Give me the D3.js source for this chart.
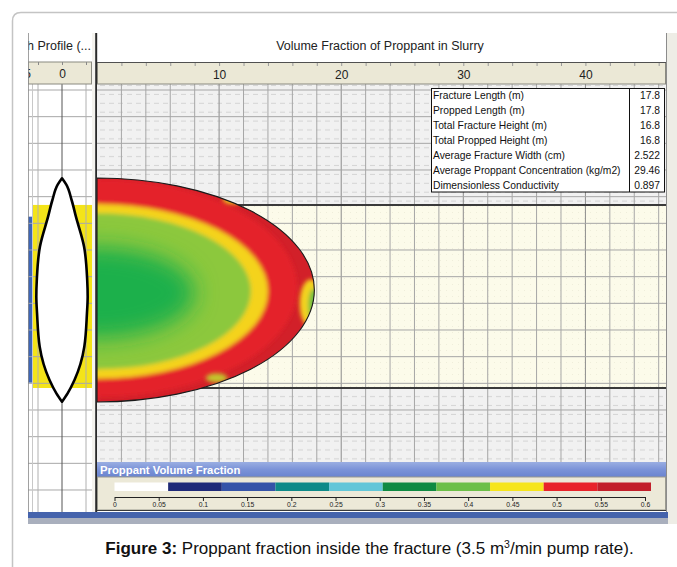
<!DOCTYPE html>
<html>
<head>
<meta charset="utf-8">
<script src="https://cdn.jsdelivr.net/npm/d3@7"></script>
<style>
  body { margin: 0; background: #fff; }
  svg { display: block; font-family: "Liberation Sans", Arial, sans-serif; }
</style>
</head>
<body>
<svg id="chart" width="677" height="567"></svg>
<script>
// ---- data ----

// distance along the fracture (m), top axis labels
const distLabels = [10, 20, 30, 40];

// layer tops / bottoms (depth, m): shale, pay zone, shale
const layerNames = ["shale", "pay", "shale"];
const layerTop = [0, 8.62, 22.35];
const layerBottom = [8.62, 22.35, 28];

// width profile (left panel): depth (m) and half width (cm)
const profileDepth = [6.62, 7.1, 8.25, 9.5, 11.75, 14.25, 15.5, 16.73, 19.25, 21.75, 22.73, 23.38];
const profileHalfWidth = [0, 0.18, 0.4, 0.58, 0.92, 1.05, 1.07, 1.04, 0.93, 0.52, 0.24, 0];

// proppant fraction contours inside the fracture (nested half ellipses)
const bandValue = [0.55, 0.515, 0.465, 0.42, 0.36];
const bandLength = [17.8, 16.4, 14.0, 12.6, 8.0];     // m from wellbore
const bandHalfHeight = [8.4, 8.2, 6.55, 5.85, 3.4];  // m
const bandCentre = [15, 14.85, 15.1, 15.1, 15.2];    // depth, m

// small patches at the fracture edge
const patchX = [17.5, 17.75, 11.2, 9.8];
const patchDepth = [16.0, 16.2, 8.2, 21.6];
const patchRx = [0.9, 0.45, 0.9, 0.9];
const patchRy = [1.8, 1.3, 0.35, 0.35];
const patchValue = [0.46, 0.4, 0.46, 0.44];

// field colours for the contour plot
const fieldStops = [0.36, 0.41, 0.46, 0.51, 0.57];
const fieldColors = ["#1eb04b", "#72c046", "#f6e71c", "#e62229", "#c81f29"];

// legend
const legendColors = ["#ffffff", "#1f2a78", "#3553a8", "#0e8a88", "#62c6d8",
                      "#0f8a42", "#6cbf48", "#f6e51c", "#e8232a", "#c21f2a"];
const legendTicks = [0, 0.05, 0.1, 0.15, 0.2, 0.25, 0.3, 0.35, 0.4, 0.45, 0.5, 0.55, 0.6];

// results table
const statLabels = ["Fracture Length (m)", "Propped Length (m)", "Total Fracture Height (m)",
  "Total Propped Height (m)", "Average Fracture Width (cm)",
  "Average Proppant Concentration (kg/m2)", "Dimensionless Conductivity"];
const statValues = ["17.8", "17.8", "16.8", "16.8", "2.522", "29.46", "0.897"];

// ---- drawing ----
const svg = d3.select("#chart");
const defs = svg.append("defs");

const x = d3.scaleLinear().domain([0, 46.6]).range([97, 666]);
const y = d3.scaleLinear().domain([0, 28]).range([90, 463.33]);
const w = d3.scaleLinear().domain([-1, 1]).range([38, 86]);
const legendX = d3.scaleLinear().domain([0, 0.6]).range([114.5, 645]);
const barX = d3.scaleLinear().domain([0, legendColors.length]).range([114.5, 651]);
const fieldColor = d3.scaleLinear().domain(fieldStops).range(fieldColors).clamp(true);

// patterns and filters
const shale = defs.append("pattern").attr("id", "shale")
  .attr("patternUnits", "userSpaceOnUse").attr("width", 9).attr("height", 26.667 / 3)
  .attr("y", 90);
shale.append("rect").attr("width", 9).attr("height", 9).attr("fill", "#f1f1f1");
shale.append("line").attr("x1", 1).attr("x2", 6).attr("y1", 4.4).attr("y2", 4.4)
  .attr("stroke", "#d4d4d4").attr("stroke-width", 1);

const pay = defs.append("pattern").attr("id", "pay")
  .attr("patternUnits", "userSpaceOnUse").attr("width", 6).attr("height", 6);
pay.append("rect").attr("width", 6).attr("height", 6).attr("fill", "#fcfbea");
pay.append("rect").attr("x", 2).attr("y", 2).attr("width", 1).attr("height", 1).attr("fill", "#efeedb");

defs.append("filter").attr("id", "blur").attr("x", "-20%").attr("y", "-20%")
  .attr("width", "140%").attr("height", "140%")
  .append("feGaussianBlur").attr("stdDeviation", 2.3);
defs.append("filter").attr("id", "blurCore").attr("x", "-50%").attr("y", "-50%")
  .attr("width", "200%").attr("height", "200%")
  .append("feGaussianBlur").attr("stdDeviation", 11);

const titleGrad = defs.append("linearGradient").attr("id", "titleGrad")
  .attr("x1", 0).attr("x2", 0).attr("y1", 0).attr("y2", 1);
titleGrad.append("stop").attr("offset", 0).attr("stop-color", "#9aaee2");
titleGrad.append("stop").attr("offset", 0.5).attr("stop-color", "#7b93d8");
titleGrad.append("stop").attr("offset", 1).attr("stop-color", "#6a84cf");

defs.append("clipPath").attr("id", "mainClip").append("rect")
  .attr("x", 97).attr("y", 84).attr("width", 569).attr("height", 378);
defs.append("clipPath").attr("id", "leftClip").append("rect")
  .attr("x", 28).attr("y", 33).attr("width", 64).attr("height", 480);

// page frame
svg.append("path").attr("d", "M12.5,567 V21 Q12.5,12.5 21,12.5 H677")
  .attr("fill", "none").attr("stroke", "#c4c4c4").attr("stroke-width", 1.5);

// ================= left panel: width profile =================
const left = svg.append("g").attr("clip-path", "url(#leftClip)");
left.append("text").attr("x", 91).attr("y", 50).attr("text-anchor", "end")
  .attr("font-size", 12.5).attr("fill", "#222").text("Width Profile (...");

left.append("rect").attr("x", 28).attr("y", 84).attr("width", 64).attr("height", 428).attr("fill", "#fff");
// pay zone
left.append("rect").attr("x", 32).attr("y", y(layerTop[1])).attr("width", 60)
  .attr("height", y(layerBottom[1]) - y(layerTop[1])).attr("fill", "#f4e419");
left.append("rect").attr("x", 28).attr("y", y(9.5)).attr("width", 4)
  .attr("height", y(21.95) - y(9.5)).attr("fill", "#3e66b6");

left.selectAll("line.h").data(d3.range(0, 32, 2)).join("line")
  .attr("x1", 28).attr("x2", 92).attr("y1", d => y(d)).attr("y2", d => y(d))
  .attr("stroke", "#a8a8a8");
left.selectAll("line.v").data([-1, 1]).join("line").attr("class", "v")
  .attr("x1", d => w(d)).attr("x2", d => w(d)).attr("y1", 84).attr("y2", 512)
  .attr("stroke", "#b0b0b0");
left.append("line").attr("x1", 32.5).attr("x2", 32.5).attr("y1", 84).attr("y2", 512).attr("stroke", "#c8c8c8");
left.append("line").attr("x1", w(0)).attr("x2", w(0)).attr("y1", 84).attr("y2", 512)
  .attr("stroke", "#555").attr("stroke-width", 1);

const profile = profileDepth.map((d, i) => ({ depth: d, hw: profileHalfWidth[i] }));
const lens = d3.area()
  .y(d => y(d.depth))
  .x0(d => w(-d.hw))
  .x1(d => w(d.hw))
  .curve(d3.curveMonotoneY);
left.append("path").datum(profile).attr("d", lens)
  .attr("fill", "#fff").attr("stroke", "#000").attr("stroke-width", 2.6)
  .attr("stroke-linejoin", "round");

// left axis bar
left.append("rect").attr("x", 28).attr("y", 62).attr("width", 63.5).attr("height", 22)
  .attr("fill", "#ebe8d6").attr("stroke", "#8a8a80");
const leftAxis = left.append("g").attr("transform", "translate(0,62)")
  .call(d3.axisTop(w).tickValues([-1.5, -1, 0, 1]).tickSize(-3).tickFormat(d => d === 0 || d === -1.5 ? d : ""));
leftAxis.select(".domain").remove();
leftAxis.selectAll("line").attr("stroke", "#888");
leftAxis.selectAll("text").attr("y", 16).attr("font-size", 12).attr("fill", "#222")
  .attr("font-family", "Liberation Sans, Arial, sans-serif")
  .attr("text-anchor", d => d < 0 ? "end" : "middle")
  .attr("dx", d => d < 0 ? 4.5 : 0);
left.append("rect").attr("x", 28).attr("y", 33).attr("width", 0.8).attr("height", 480).attr("fill", "#8a8a8a");

// splitter
svg.append("rect").attr("x", 92).attr("y", 33).attr("width", 3.5).attr("height", 480).attr("fill", "#f4f3ee");
svg.append("rect").attr("x", 95.2).attr("y", 33).attr("width", 2).attr("height", 480).attr("fill", "#2a2a2a");

// ================= main panel =================
svg.append("text").attr("x", 380).attr("y", 50).attr("text-anchor", "middle")
  .attr("font-size", 12.5).attr("fill", "#222").text("Volume Fraction of Proppant in Slurry");

const main = svg.append("g").attr("clip-path", "url(#mainClip)");
main.selectAll("rect.layer").data(layerNames).join("rect").attr("class", "layer")
  .attr("x", x(0)).attr("width", x(46.6) - x(0))
  .attr("y", (d, i) => i === 0 ? 84 : y(layerTop[i]))
  .attr("height", (d, i) => y(layerBottom[i]) - (i === 0 ? 84 : y(layerTop[i])))
  .attr("fill", d => d === "pay" ? "url(#pay)" : "url(#shale)");

main.selectAll("line.gx").data(d3.range(2, 47, 2)).join("line").attr("class", "gx")
  .attr("x1", d => x(d)).attr("x2", d => x(d)).attr("y1", 84).attr("y2", 470)
  .attr("stroke", d => d % 10 === 0 ? "#8c8c8c" : "#a6a6a6");
main.selectAll("line.gy").data(d3.range(0, 29, 2)).join("line").attr("class", "gy")
  .attr("x1", x(0)).attr("x2", x(46.6)).attr("y1", d => y(d)).attr("y2", d => y(d))
  .attr("stroke", "#a6a6a6");
main.selectAll("line.layerLine").data([layerTop[1], layerTop[2]]).join("line").attr("class", "layerLine")
  .attr("x1", x(0)).attr("x2", x(46.6)).attr("y1", d => y(d)).attr("y2", d => y(d))
  .attr("stroke", "#3a3a3a").attr("stroke-width", 2);

// fracture: half ellipse outline
const rx0 = x(bandLength[0]) - x(0);
const ry0 = y(bandCentre[0] + bandHalfHeight[0]) - y(bandCentre[0]);
const outline = `M${x(0)},${y(bandCentre[0] - bandHalfHeight[0])} A${rx0},${ry0} 0 0 1 ${x(0)},${y(bandCentre[0] + bandHalfHeight[0])} Z`;
defs.append("clipPath").attr("id", "fracClip").append("path").attr("d", outline);

const frac = main.append("g").attr("clip-path", "url(#fracClip)");
frac.append("rect").attr("x", x(-1)).attr("y", y(5)).attr("width", x(19) - x(-1))
  .attr("height", y(25) - y(5)).attr("fill", fieldColor(bandValue[0]));
const bands = bandValue.map((v, i) => ({ v, a: bandLength[i], b: bandHalfHeight[i], c: bandCentre[i] }));
frac.append("g").attr("filter", "url(#blur)")
  .selectAll("ellipse").data(bands.slice(1, 4)).join("ellipse")
  .attr("cx", x(0)).attr("cy", d => y(d.c))
  .attr("rx", d => x(d.a) - x(0)).attr("ry", d => y(d.c + d.b) - y(d.c))
  .attr("fill", d => fieldColor(d.v));
frac.append("g").attr("filter", "url(#blurCore)")
  .selectAll("ellipse").data(bands.slice(4)).join("ellipse")
  .attr("cx", x(0)).attr("cy", d => y(d.c))
  .attr("rx", d => x(d.a) - x(0)).attr("ry", d => y(d.c + d.b) - y(d.c))
  .attr("fill", d => fieldColor(d.v));
const patches = patchX.map((px, i) => ({ x: px, d: patchDepth[i], rx: patchRx[i], ry: patchRy[i], v: patchValue[i] }));
frac.append("g").attr("filter", "url(#blur)")
  .selectAll("ellipse").data(patches).join("ellipse")
  .attr("cx", d => x(d.x)).attr("cy", d => y(d.d))
  .attr("rx", d => x(d.rx) - x(0)).attr("ry", d => y(d.ry) - y(0))
  .attr("fill", d => fieldColor(d.v)).attr("fill-opacity", 0.9);
main.append("path").attr("d", outline).attr("fill", "none")
  .attr("stroke", "#1a1a1a").attr("stroke-width", 1.1);

// top axis bar
svg.append("rect").attr("x", 97.5).attr("y", 62.5).attr("width", 568).attr("height", 21.5)
  .attr("fill", "#ebe8d6").attr("stroke", "#8a8a80");
svg.append("line").attr("x1", 97).attr("x2", 666).attr("y1", 62.5).attr("y2", 62.5).attr("stroke", "#505050");
const topAxis = svg.append("g").attr("transform", "translate(0,63)")
  .call(d3.axisTop(x).tickValues(d3.range(2, 47, 2)).tickSize(-3)
    .tickFormat(d => distLabels.includes(d) ? d : ""));
topAxis.select(".domain").remove();
topAxis.selectAll("line").attr("stroke", "#999");
topAxis.selectAll("text").attr("y", 16).attr("font-size", 12).attr("fill", "#222")
  .attr("font-family", "Liberation Sans, Arial, sans-serif");

// right edge
svg.append("rect").attr("x", 666).attr("y", 33).attr("width", 11).attr("height", 491).attr("fill", "#eeede6");
svg.append("line").attr("x1", 666.5).attr("x2", 666.5).attr("y1", 33).attr("y2", 524).attr("stroke", "#8c8c8c");

// results table
const table = svg.append("g");
table.append("rect").attr("x", 431.5).attr("y", 88.5).attr("width", 233).attr("height", 103.5)
  .attr("fill", "#fff").attr("stroke", "#111");
table.append("line").attr("x1", 629.5).attr("x2", 629.5).attr("y1", 88.5).attr("y2", 192).attr("stroke", "#111");
table.selectAll("text.lab").data(statLabels).join("text").attr("class", "lab")
  .attr("x", 433).attr("y", (d, i) => 99 + i * 15.0)
  .attr("font-size", 10.3).attr("fill", "#111").text(d => d);
table.selectAll("text.val").data(statValues).join("text").attr("class", "val")
  .attr("x", 660).attr("y", (d, i) => 99 + i * 15.0).attr("text-anchor", "end")
  .attr("font-size", 10.3).attr("fill", "#111").text(d => d);

// ================= legend =================
const legend = svg.append("g");
legend.append("rect").attr("x", 97).attr("y", 462).attr("width", 569).attr("height", 15)
  .attr("fill", "url(#titleGrad)");
legend.append("text").attr("x", 100).attr("y", 474).attr("font-size", 11.3)
  .attr("font-weight", "bold").attr("fill", "#fff").text("Proppant Volume Fraction");
legend.append("rect").attr("x", 97.5).attr("y", 477).attr("width", 568).attr("height", 33)
  .attr("fill", "#ece9d8").attr("stroke", "#9a9a90");
legend.append("line").attr("x1", 97).attr("x2", 666).attr("y1", 510.5).attr("y2", 510.5).attr("stroke", "#3a3a3a");
legend.selectAll("rect.seg").data(legendColors).join("rect").attr("class", "seg")
  .attr("x", (d, i) => barX(i)).attr("width", (d, i) => barX(i + 1) - barX(i))
  .attr("y", 482.5).attr("height", 8.5).attr("fill", d => d);
const legAxis = legend.append("g").attr("transform", "translate(0,497)")
  .call(d3.axisBottom(legendX).tickValues(legendTicks).tickSize(4).tickSizeOuter(0)
    .tickPadding(1).tickFormat(d => String(d)));
legAxis.select(".domain").attr("stroke", "#222");
legAxis.selectAll("line").attr("stroke", "#222");
legAxis.selectAll("text").attr("font-size", 6.8).attr("fill", "#222")
  .attr("font-family", "Liberation Sans, Arial, sans-serif");

// bottom strip of the screenshot
svg.append("rect").attr("x", 28).attr("y", 512).attr("width", 640).attr("height", 6).attr("fill", "#4563ac");
svg.append("rect").attr("x", 28).attr("y", 518).attr("width", 640).attr("height", 6).attr("fill", "#a9afbd");

// caption
const cap = svg.append("text").attr("x", 369.5).attr("y", 554).attr("text-anchor", "middle")
  .attr("font-size", 17).attr("fill", "#111");
cap.append("tspan").attr("font-weight", "bold").text("Figure 3:");
cap.append("tspan").text(" Proppant fraction inside the fracture (3.5 m");
cap.append("tspan").attr("font-size", 10.5).attr("dy", -6.5).text("3");
cap.append("tspan").attr("dy", 6.5).text("/min pump rate).");
</script>
</body>
</html>
